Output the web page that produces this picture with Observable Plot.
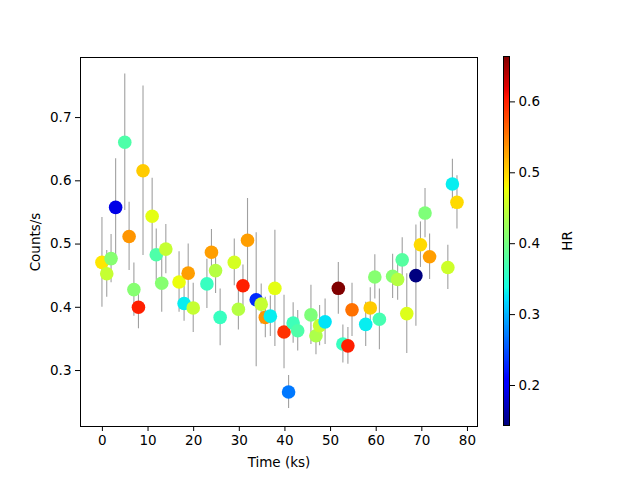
<!DOCTYPE html>
<html>
<head>
<meta charset="utf-8">
<script src="https://cdn.jsdelivr.net/npm/d3@7"></script>
<script src="https://cdn.jsdelivr.net/npm/@observablehq/plot@0.6"></script>
<style>
  html, body { margin: 0; padding: 0; background: white; }
  #wrap { display: flex; flex-direction: row; width: 641px; height: 479px; font-family: "DejaVu Sans", sans-serif; }
  #wrap svg { background: white; }
</style>
</head>
<body>
<div id="wrap"></div>
<script>
const time = [-0.1, 0.95, 1.9, 2.9, 4.9, 5.85, 6.9, 7.9, 8.9, 10.9, 11.8, 13.0, 13.9, 16.8, 17.9, 18.8, 19.9, 22.9, 23.9, 24.8, 25.8, 28.9, 29.8, 30.8, 31.8, 33.7, 34.8, 35.7, 36.8, 37.8, 39.8, 40.8, 41.8, 42.8, 45.7, 46.8, 47.6, 48.8, 51.7, 52.7, 53.8, 54.7, 57.7, 58.7, 59.7, 60.7, 63.6, 64.7, 65.7, 66.7, 68.7, 69.7, 70.7, 71.7, 75.7, 76.7, 77.7];
const counts = [0.471, 0.453, 0.477, 0.558, 0.661, 0.512, 0.428, 0.400, 0.616, 0.544, 0.483, 0.438, 0.492, 0.440, 0.406, 0.454, 0.399, 0.437, 0.487, 0.458, 0.384, 0.471, 0.397, 0.434, 0.506, 0.412, 0.405, 0.384, 0.386, 0.430, 0.361, 0.266, 0.375, 0.363, 0.388, 0.355, 0.371, 0.377, 0.430, 0.342, 0.339, 0.396, 0.373, 0.399, 0.448, 0.381, 0.449, 0.444, 0.475, 0.390, 0.450, 0.499, 0.549, 0.480, 0.463, 0.595, 0.566];
const countErr = [0.071, 0.037, 0.038, 0.077, 0.108, 0.054, 0.042, 0.034, 0.134, 0.060, 0.041, 0.046, 0.039, 0.048, 0.028, 0.046, 0.039, 0.039, 0.036, 0.036, 0.045, 0.037, 0.033, 0.033, 0.066, 0.106, 0.032, 0.032, 0.032, 0.092, 0.058, 0.026, 0.032, 0.032, 0.047, 0.030, 0.032, 0.036, 0.041, 0.030, 0.029, 0.042, 0.035, 0.032, 0.035, 0.048, 0.035, 0.033, 0.035, 0.063, 0.080, 0.036, 0.039, 0.036, 0.035, 0.039, 0.042];
const hr = [0.49, 0.45, 0.41, 0.19, 0.375, 0.535, 0.41, 0.60, 0.505, 0.47, 0.375, 0.41, 0.45, 0.475, 0.33, 0.53, 0.45, 0.36, 0.53, 0.44, 0.36, 0.46, 0.44, 0.60, 0.53, 0.23, 0.45, 0.535, 0.33, 0.47, 0.59, 0.27, 0.365, 0.375, 0.405, 0.435, 0.45, 0.325, 0.664, 0.36, 0.60, 0.555, 0.33, 0.505, 0.41, 0.37, 0.41, 0.44, 0.38, 0.465, 0.1436, 0.497, 0.405, 0.53, 0.455, 0.33, 0.497];

const xTicks = [0, 10, 20, 30, 40, 50, 60, 70, 80];
const yTicks = [0.3, 0.4, 0.5, 0.6, 0.7];
const hrTicks = [0.2, 0.3, 0.4, 0.5, 0.6];

const data = time.map((t, i) => ({t, c: counts[i], e: countErr[i], hr: hr[i]}));

// matplotlib "jet" colormap, piecewise-linear
function jet(t) {
  const seg = (pts) => {
    for (let i = 1; i < pts.length; i++) {
      if (t <= pts[i][0]) {
        const [x0, y0] = pts[i - 1], [x1, y1] = pts[i];
        return y0 + (y1 - y0) * (t - x0) / (x1 - x0);
      }
    }
    return pts[pts.length - 1][1];
  };
  const r = seg([[0, 0], [0.35, 0], [0.66, 1], [0.89, 1], [1, 0.5]]);
  const g = seg([[0, 0], [0.125, 0], [0.375, 1], [0.64, 1], [0.91, 0], [1, 0]]);
  const b = seg([[0, 0.5], [0.11, 1], [0.34, 1], [0.65, 0], [1, 0]]);
  return d3.rgb(r * 255, g * 255, b * 255).formatHex();
}
const stops = [0, 0.11, 0.125, 0.34, 0.35, 0.375, 0.64, 0.65, 0.66, 0.89, 0.91, 1];
const hrMin = d3.min(hr), hrMax = d3.max(hr);
const colorScale = {
  type: "linear",
  domain: stops.map(s => hrMin + s * (hrMax - hrMin)),
  range: stops.map(jet),
  interpolate: "rgb"
};

const font = "DejaVu Sans, sans-serif";
const fs = 13.5;

const main = Plot.plot({
  width: 490,
  height: 479,
  marginLeft: 80,
  marginRight: 13,
  marginTop: 57,
  marginBottom: 53,
  style: {fontFamily: font, fontSize: fs + "px", color: "black", background: "white"},
  x: {domain: [-4.8, 82.2]},
  y: {domain: [0.2115, 0.795]},
  color: colorScale,
  marks: [
    Plot.ruleX(data, {x: "t", y1: d => d.c - d.e, y2: d => d.c + d.e, stroke: "#a0a0a0", strokeWidth: 1.1}),
    Plot.dot(data, {x: "t", y: "c", fill: "hr", r: 6.8, stroke: null}),
    Plot.frame({stroke: "black", strokeWidth: 1}),
    Plot.axisX({ticks: xTicks, tickSize: 5, tickPadding: 4, tickFormat: d3.format("d"), label: "Time (ks)", labelAnchor: "center", labelOffset: 40, labelArrow: "none", fontSize: fs}),
    Plot.axisY({ticks: yTicks, tickSize: 5, tickPadding: 4, tickFormat: d3.format(".1f"), label: "Counts/s", labelAnchor: "center", labelOffset: 50, labelArrow: "none", fontSize: fs})
  ]
});

const strips = d3.range(0, 400).map(i => hrMin + (i + 0.5) * (hrMax - hrMin) / 400);
const step = (hrMax - hrMin) / 400;
const bar = Plot.plot({
  width: 151,
  height: 479,
  marginLeft: 13,
  marginRight: 132,
  marginTop: 56,
  marginBottom: 54,
  style: {fontFamily: font, fontSize: fs + "px", color: "black", background: "white"},
  x: {domain: [0, 1], axis: null},
  y: {domain: [hrMin, hrMax]},
  color: colorScale,
  marks: [
    Plot.rect(strips, {x1: 0, x2: 1, y1: d => d - step * 0.6, y2: d => d + step * 0.6, fill: d => d, shapeRendering: "crispEdges"}),
    Plot.frame({stroke: "black", strokeWidth: 1}),
    Plot.axisY({anchor: "right", ticks: hrTicks, tickSize: 5, tickPadding: 4, tickFormat: d3.format(".1f"), label: "HR", labelAnchor: "center", labelOffset: 62, labelArrow: "none", fontSize: fs})
  ]
});

const wrap = document.getElementById("wrap");
wrap.appendChild(main);
wrap.appendChild(bar);
</script>
</body>
</html>
